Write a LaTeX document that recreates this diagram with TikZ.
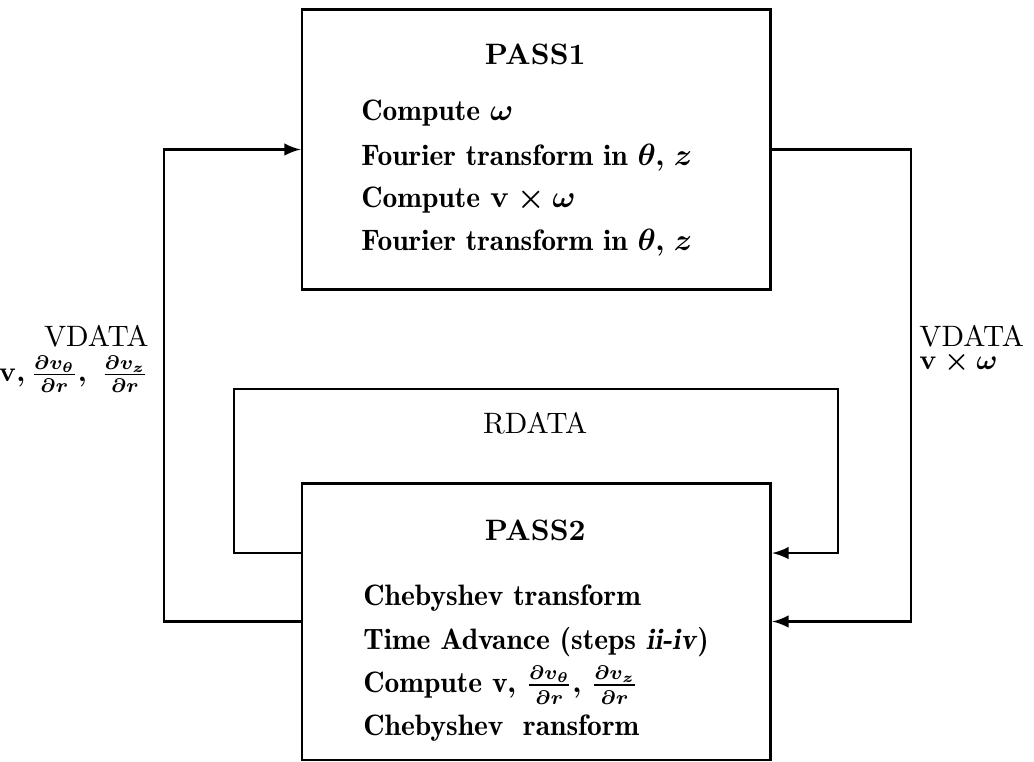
\documentclass[tikz,border=0pt]{standalone}
\usepackage{amsmath,amsfonts}
\usepackage{bm}
\usepackage{tikz}
\newcommand{\dvr}[1]{\frac{\partial v_{#1}}{\partial r}}

\begin{document}
\begin{tikzpicture}[pbox/.style={draw,line width=1pt,minimum width=5.86cm,minimum height=3.5cm,inner sep=0pt}, ptext/.style={anchor=west,inner sep=0pt,font=\fontsize{10.5}{12}\fontseries{b}\selectfont\boldmath}, plabel/.style={inner sep=0pt,font=\fontsize{10.5}{12}\selectfont}, pmath/.style={inner sep=0pt,font=\fontsize{10}{12}\selectfont\boldmath}, >=latex, line width=1pt]
    \useasboundingbox (0,0) rectangle (12.925,9.525);

    \node[pbox] (p1) at (6.706,7.656) {};
    \node[pbox, minimum height=3.46cm] (p2) at (6.706,1.756) {};

    \node[ptext, anchor=center] (t1) at (6.69,8.84) {\bfseries PASS1};
    \node[ptext] (l1a) at (4.5,8.11) {Compute $\bm{\omega}$};
    \node[ptext] (l1b) at (4.5,7.56) {Fourier transform in $\bm{\theta}$, $\bm{z}$};
    \node[ptext] (l1c) at (4.5,7.02) {Compute $\mathbf{v}\times\bm{\omega}$};
    \node[ptext] (l1d) at (4.5,6.49) {Fourier transform in $\bm{\theta}$, $\bm{z}$};

    \node[ptext, anchor=center] (t2) at (6.69,2.9) {\bfseries PASS2};
    \node[ptext] (l2a) at (4.525,2.05) {Chebyshev transform};
    \node[ptext] (l2b) at (4.525,1.5) {Time Advance (steps \textit{ii-iv})};
    \node[ptext] (l2c) at (4.525,0.96) {Compute v, $\dvr{\theta}$, $\dvr{z}$};
    \node[ptext] (l2d) at (4.525,0.425) {Chebyshev\ \ ransform};

    \node[plabel] (rd) at (6.69,4.24) {RDATA};
    \node[plabel, anchor=east] (vdl) at (1.875,5.325) {VDATA};
    \node[pmath, anchor=east] (vdlq) at (1.875,4.85) {$\mathbf{v},\dvr{\theta},\;\dvr{z}$};
    \node[plabel, anchor=west] (vdr) at (11.475,5.325) {VDATA};
    \node[pmath, anchor=west] (vdrq) at (11.475,4.99) {$\mathbf{v}\times\bm{\omega}$};

    \coordinate (vl) at (2.05,4.5);
    \coordinate (vr) at (11.3875,4.5);
    \coordinate (rw) at ([yshift=0.856cm]p2.west);
    \coordinate (re) at ([yshift=0.856cm]p2.east);
    \coordinate (rtl) at (2.925,4.6625);
    \coordinate (rtr) at (10.475,4.6625);

    \draw[->] (p2.west) -| (vl) |- (p1.west) ;
    \draw[->] (p1.east) -| (vr) |- (p2.east) ;
    \draw[->] (rw) -| (rtl) -- (rtr) |- (re) ;
\end{tikzpicture}
\end{document}
